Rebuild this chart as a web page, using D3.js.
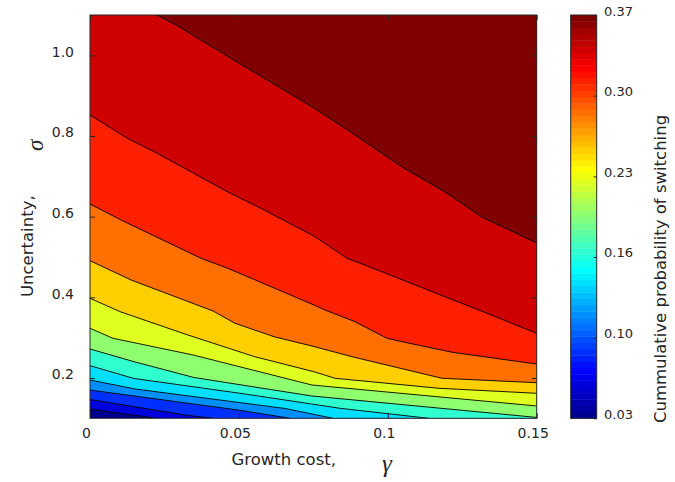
<!DOCTYPE html>
<html><head><meta charset="utf-8">
<script src="https://cdn.jsdelivr.net/npm/d3@7"></script>
<style>
body{margin:0;background:#fff}
svg{display:block}
text{font-family:"DejaVu Sans",Verdana,sans-serif;fill:#262626}
</style>
</head><body>
<svg id="chart" width="675" height="482"></svg>
<script>
// ---------- data ----------
const gammaTicks = [0, 0.05, 0.1, 0.15];
const gammaTickLabels = ["0", "0.05", "0.1", "0.15"];
const sigmaTicks = [0.2, 0.4, 0.6, 0.8, 1.0];
const sigmaTickLabels = ["0.2", "0.4", "0.6", "0.8", "1.0"];
const cbarTicks = [0.03, 0.098, 0.166, 0.234, 0.302, 0.37];
const cbarTickLabels = ["0.03", "0.10", "0.16", "0.23", "0.30", "0.37"];
// band lower bounds (levels[1..12] are the contour values)
const levels = [0.03, 0.0583, 0.0867, 0.115, 0.1433, 0.1717, 0.2, 0.2283, 0.2567, 0.285, 0.3133, 0.3417, 0.37];
// contour lines, [gamma, sigma]
const line01 = [[0, 0.123], [0.0222, 0.1]];
const line02 = [[0, 0.1466], [0.0319, 0.1082], [0.0413, 0.1]];
const line03 = [[0, 0.170], [0.0497, 0.1206], [0.0672, 0.1]];
const line04 = [[0, 0.1949], [0.0151, 0.1727], [0.0655, 0.1243], [0.0816, 0.1]];
const line05 = [[0, 0.2304], [0.0148, 0.1987], [0.0504, 0.162], [0.0840, 0.1248], [0.1137, 0.1]];
const line06 = [[0, 0.2718], [0.0148, 0.2403], [0.0349, 0.2012], [0.0745, 0.1553], [0.15, 0.1022]];
const line07 = [[0, 0.3232], [0.0077, 0.2984], [0.0346, 0.2570], [0.0745, 0.1826], [0.15, 0.1305]];
const line08 = [[0, 0.3975], [0.0104, 0.3636], [0.0329, 0.3065], [0.0551, 0.2532], [0.0752, 0.2155], [0.0823, 0.1992], [0.1172, 0.1744], [0.15, 0.162]];
const line09 = [[0, 0.4908], [0.0138, 0.4429], [0.0413, 0.3661], [0.0487, 0.3356], [0.0621, 0.3016], [0.0745, 0.2793], [0.088, 0.2527], [0.1182, 0.1992], [0.15, 0.1883]];
const line10 = [[0, 0.6314], [0.0104, 0.5917], [0.0373, 0.4967], [0.0463, 0.4719], [0.0608, 0.4263], [0.0752, 0.3809], [0.0789, 0.3685], [0.089, 0.3395], [0.0997, 0.2984], [0.1058, 0.2884], [0.1216, 0.2637], [0.15, 0.2346]];
const line11 = [[0, 0.852], [0.0128, 0.7932], [0.0218, 0.7603], [0.0457, 0.6636], [0.0574, 0.6207], [0.0752, 0.552], [0.0863, 0.4967], [0.0923, 0.4801], [0.1192, 0.4015], [0.1306, 0.3685], [0.15, 0.3108]];
const line12 = [[0.0225, 1.1], [0.0289, 1.0752], [0.0483, 0.9884], [0.0752, 0.8694], [0.089, 0.8025], [0.1048, 0.7231], [0.1192, 0.6611], [0.1316, 0.5991], [0.15, 0.5347]];
const contourLines = [line01, line02, line03, line04, line05, line06, line07, line08, line09, line10, line11, line12];

// ---------- layout ----------
const svg = d3.select("#chart");
const P = {l: 90, r: 536.7, t: 15, b: 418.3};
const gDomain = [0, 0.15], sDomain = [0.1, 1.1];
const cDomain = [0.03, 0.37];
const x = d3.scaleLinear().domain(gDomain).range([P.l, P.r]);
const y = d3.scaleLinear().domain(sDomain).range([P.b, P.t]);

// MATLAB jet(64)
function jet(m) {
  const n = Math.ceil(m / 4);
  const u = [];
  for (let i = 1; i <= n; i++) u.push(i / n);
  for (let i = 0; i < n - 1; i++) u.push(1);
  for (let i = n; i >= 1; i--) u.push(i / n);
  const g0 = Math.ceil(n / 2) - (m % 4 === 1 ? 1 : 0);
  const val = k => (k >= 1 && k <= u.length) ? u[k - 1] : 0;
  const out = [];
  for (let idx = 1; idx <= m; idx++) {
    const r = val(idx - g0 - n), g = val(idx - g0), b = val(idx - g0 + n);
    out.push(d3.rgb(Math.round(r * 255), Math.round(g * 255), Math.round(b * 255)).formatHex());
  }
  return out;
}
const cmap = jet(64);
const colorOf = v => cmap[Math.max(0, Math.min(63, Math.floor((v - cDomain[0]) / (cDomain[1] - cDomain[0]) * 64 + 1e-6)))];

// ---------- contour fill ----------
svg.append("defs").append("clipPath").attr("id", "clip")
  .append("rect").attr("x", P.l).attr("y", P.t).attr("width", P.r - P.l).attr("height", P.b - P.t);
const plot = svg.append("g").attr("clip-path", "url(#clip)");
plot.append("rect").attr("x", x(gDomain[0])).attr("y", y(sDomain[1]))
  .attr("width", x(gDomain[1]) - x(gDomain[0])).attr("height", y(sDomain[0]) - y(sDomain[1]))
  .attr("fill", colorOf(levels[0]));
function region(line) {
  const pts = line.slice();
  const s = pts[0], e = pts[pts.length - 1];
  if (e[1] <= sDomain[0] + 1e-9) pts.push([gDomain[1], sDomain[0]]);
  pts.push([gDomain[1], sDomain[1]]);
  if (s[0] <= gDomain[0] + 1e-9) pts.push([gDomain[0], sDomain[1]]);
  return pts;
}
const lineGen = d3.line().x(d => x(d[0])).y(d => y(d[1]));
contourLines.forEach((ln, i) => {
  plot.append("path").attr("d", lineGen(region(ln)) + "Z")
    .attr("fill", colorOf(levels[i + 1])).attr("stroke", colorOf(levels[i + 1])).attr("stroke-width", 0.3);
});
contourLines.forEach(ln => {
  plot.append("path").attr("d", lineGen(ln)).attr("fill", "none")
    .attr("stroke", "#000").attr("stroke-width", 0.9);
});

// ---------- axes ----------
const axCol = "#262626";
function styleAxis(g) {
  g.select(".domain").remove();
  g.selectAll(".tick line").attr("stroke", axCol).attr("stroke-width", 1);
  g.selectAll("text").style("font-size", "14px").attr("fill", axCol).style("font-family", "'DejaVu Sans',Verdana,sans-serif");
}
const xb = svg.append("g").attr("transform", `translate(0,${P.b})`)
  .call(d3.axisBottom(x).tickValues(gammaTicks).tickSize(-5).tickFormat((d, i) => gammaTickLabels[i]));
styleAxis(xb);
xb.selectAll("text").attr("y", 20).attr("dy", null).attr("x", -4);
const xt = svg.append("g").attr("transform", `translate(0,${P.t})`)
  .call(d3.axisTop(x).tickValues(gammaTicks).tickSize(-5).tickFormat(""));
styleAxis(xt);
const yl = svg.append("g").attr("transform", `translate(${P.l},0)`)
  .call(d3.axisLeft(y).tickValues(sigmaTicks).tickSize(-5).tickFormat((d, i) => sigmaTickLabels[i]));
styleAxis(yl);
yl.selectAll("text").attr("x", -16).attr("dy", null).attr("y", 1);
const yr = svg.append("g").attr("transform", `translate(${P.r},0)`)
  .call(d3.axisRight(y).tickValues(sigmaTicks).tickSize(-5).tickFormat(""));
styleAxis(yr);
svg.append("rect").attr("x", P.l).attr("y", P.t).attr("width", P.r - P.l).attr("height", P.b - P.t)
  .attr("fill", "none").attr("stroke", axCol).attr("stroke-width", 1);

// axis labels
svg.append("text").attr("x", 231.5).attr("y", 465).style("font-size", "16.5px").text("Growth cost,");
svg.append("text").attr("x", 382).attr("y", 472)
  .style("font-family", "'Liberation Serif','Times New Roman',serif").style("font-style", "italic")
  .style("font-size", "25px").text("γ");
svg.append("text").attr("transform", "translate(33.3,297) rotate(-90)").style("font-size", "16.5px").text("Uncertainty,");
svg.append("text").attr("transform", "translate(43,151) rotate(-90)")
  .style("font-family", "'Liberation Serif','Times New Roman',serif").style("font-style", "italic")
  .style("font-size", "23px").text("σ");

// ---------- colorbar ----------
const CB = {l: 570.7, r: 596.7, t: 15, b: 418.3};
const cy = d3.scaleLinear().domain(cDomain).range([CB.b, CB.t]);
const cb = svg.append("g");
cmap.forEach((c, i) => {
  const v0 = cDomain[0] + (cDomain[1] - cDomain[0]) * i / 64;
  const v1 = cDomain[0] + (cDomain[1] - cDomain[0]) * (i + 1) / 64;
  cb.append("rect").attr("x", CB.l).attr("width", CB.r - CB.l)
    .attr("y", cy(v1)).attr("height", cy(v0) - cy(v1) + 0.4).attr("fill", c);
});
const cbAx = svg.append("g").attr("transform", `translate(${CB.r},0)`)
  .call(d3.axisRight(cy).tickValues(cbarTicks).tickSize(-3).tickFormat((d, i) => cbarTickLabels[i]));
styleAxis(cbAx);
cbAx.selectAll("text").style("font-size", "13px").attr("x", 7.3).attr("dy", null).attr("y", 0);
svg.append("rect").attr("x", CB.l).attr("y", CB.t).attr("width", CB.r - CB.l).attr("height", CB.b - CB.t)
  .attr("fill", "none").attr("stroke", axCol).attr("stroke-width", 1);
svg.append("text").attr("transform", "translate(666,423) rotate(-90)").style("font-size", "16.5px")
  .text("Cummulative probability of switching");
</script>
</body></html>
